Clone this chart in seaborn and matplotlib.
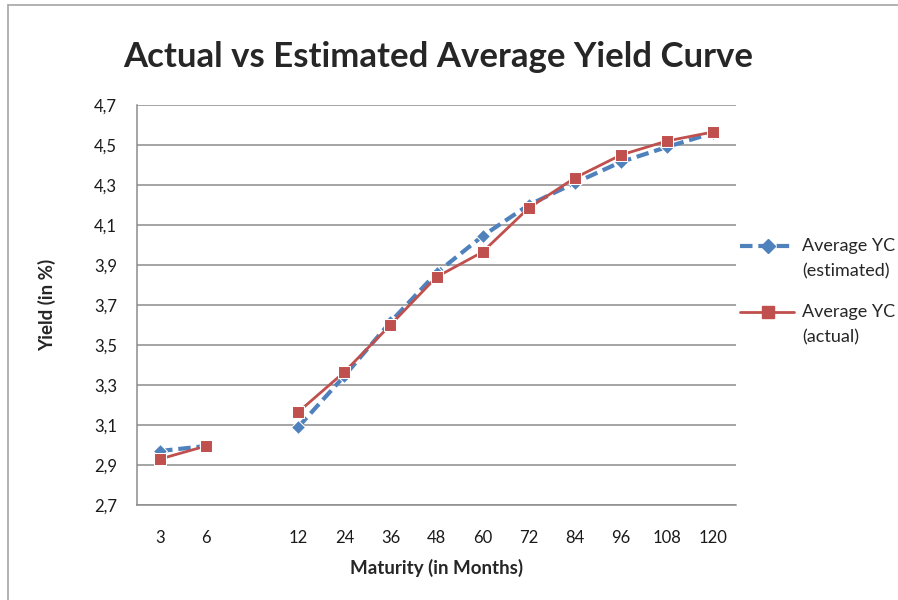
import numpy as np
import pandas as pd
import matplotlib
matplotlib.use('Agg')
import matplotlib.pyplot as plt
from matplotlib.lines import Line2D
import seaborn as sns

sns.set_style('white')
plt.rcParams['font.family'] = ['Lato', 'DejaVu Sans']

# data (blank category between 6 and 12 months)
maturity = ['3', '6', '', '12', '24', '36', '48', '60', '72', '84', '96', '108', '120']
yc_estimated = [2.97, 2.995, np.nan, 3.09, 3.345, 3.615, 3.86, 4.045, 4.20, 4.31, 4.415, 4.49, 4.56]
yc_actual = [2.93, 2.995, np.nan, 3.165, 3.365, 3.60, 3.84, 3.965, 4.185, 4.335, 4.45, 4.52, 4.565]
yticks = [2.7, 2.9, 3.1, 3.3, 3.5, 3.7, 3.9, 4.1, 4.3, 4.5, 4.7]

lab_est = 'Average YC\n(estimated)'
lab_act = 'Average YC\n(actual)'

rows = []
for name, vals in [(lab_est, yc_estimated), (lab_act, yc_actual)]:
    seg = np.cumsum(np.isnan(vals))
    for i, v in enumerate(vals):
        if not np.isnan(v):
            rows.append({'pos': i, 'yield': v, 'series': name, 'segment': int(seg[i])})
df = pd.DataFrame(rows)

BLUE = '#4F81BD'
RED = '#C0504D'
GRID = '#8c8c8c'
W, H = 898, 600

fig = plt.figure(figsize=(8.98, 6.0), dpi=100)
ax = fig.add_axes([137/W, 95/H, (736-137)/W, 400/H])

sns.lineplot(data=df, x='pos', y='yield', hue='series', units='segment', estimator=None,
             palette={lab_est: BLUE, lab_act: RED}, hue_order=[lab_est, lab_act],
             legend=False, ax=ax)
# style each series like the original
est_style = dict(linewidth=3.0, dashes=(3, 1.4), marker='D', markersize=7.5, zorder=3)
act_style = dict(linewidth=2.0, marker='s', markersize=8.5, zorder=4)
for line, name in zip(ax.get_lines(), [lab_est, lab_est, lab_act, lab_act]):
    line.set(**(est_style if name == lab_est else act_style))

ax.set_xlim(-0.5, len(maturity) - 0.5)
ax.set_ylim(2.7, 4.7)
ax.set_yticks(yticks)
ax.set_yticklabels([f'{t:.1f}'.replace('.', ',') for t in yticks], fontsize=12, color='#1a1a1a')
ax.set_xticks(range(len(maturity)))
ax.set_xticklabels(maturity, fontsize=12, color='#1a1a1a')
ax.set_xticks(np.arange(-0.5, len(maturity), 1.0), minor=True)
ax.tick_params(axis='x', which='major', length=0, pad=18)
ax.tick_params(axis='x', which='minor', length=5.5, width=1.1, color=GRID, direction='out')
ax.tick_params(axis='y', which='major', length=5.5, width=1.1, color=GRID, direction='out', pad=9)

ax.yaxis.grid(True, color=GRID, linewidth=1.1)
ax.xaxis.grid(False)
for s in ['top', 'right']:
    ax.spines[s].set_visible(False)
for s in ['left', 'bottom']:
    ax.spines[s].set_color(GRID)
    ax.spines[s].set_linewidth(1.1)

ax.set_xlabel('Maturity (in Months)', fontsize=13.5, fontweight='bold', labelpad=9)
ax.set_ylabel('Yield (in %)', fontsize=13.5, fontweight='bold', labelpad=27)

fig.text(438/W, 1 - 57/H, 'Actual vs Estimated Average Yield Curve',
         fontsize=25, fontweight='bold', ha='center', va='center')

# legend drawn by hand: marker sits level with the first text line, like Excel does
for (name, style, color, y) in [(lab_est, est_style, BLUE, 246), (lab_act, act_style, RED, 312)]:
    yf = 1 - y/H
    line_kw = {k: v for k, v in style.items() if k not in ('marker', 'markersize', 'zorder')}
    fig.add_artist(Line2D([740/W, 794/W], [yf, yf], color=color, **line_kw))
    fig.add_artist(Line2D([768/W], [yf], color=color, linestyle='none',
                          marker=style['marker'], markersize=style['markersize']))
    fig.text(802/W, yf + 8/H, name, fontsize=13, va='top', ha='left', linespacing=1.7)

# outer chart border (left and top only, as in the screenshot)
fig.add_artist(Line2D([8/W, 8/W], [0, 1 - 5/H], color='#a6a6a6', lw=1.2))
fig.add_artist(Line2D([8/W, 1], [1 - 5/H, 1 - 5/H], color='#a6a6a6', lw=1.2))

fig.savefig('out.png', dpi=100)
